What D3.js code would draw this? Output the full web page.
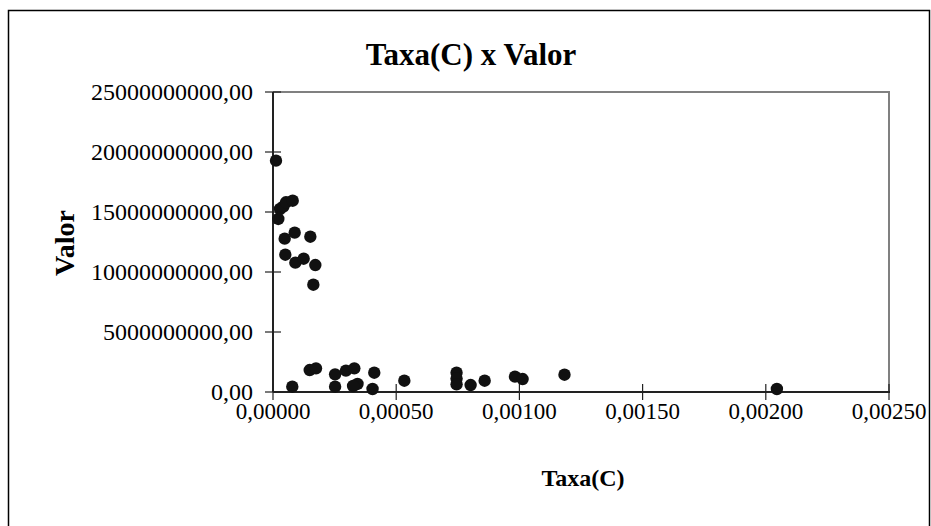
<!DOCTYPE html>
<html>
<head>
<meta charset="utf-8">
<script src="https://cdn.jsdelivr.net/npm/d3@7"></script>
<style>
  html, body { margin: 0; padding: 0; background: #fff; }
  svg { display: block; font-family: "Liberation Serif", "Times New Roman", serif; }
</style>
</head>
<body>
<svg id="chart" width="931" height="526"></svg>
<script>
// Taxa (C) per record
const taxa = [
  0.0000122, 0.0000215, 0.0000284, 0.0000418, 0.0000528, 0.0000800,
  0.0000474, 0.0000880, 0.0001515,
  0.0000500, 0.0000907, 0.0001245, 0.0001718,
  0.0001637,
  0.0000783, 0.0001490, 0.0001745, 0.0002520, 0.0002520, 0.0002960,
  0.0003300, 0.0003430, 0.0003250, 0.0004110, 0.0004040, 0.0005330,
  0.0007450, 0.0007450, 0.0007450, 0.0008020, 0.0008590, 0.0009820,
  0.0010130, 0.0011830, 0.0020450
];
// Valor per record
const valor = [
  19.28e9, 14.42e9, 15.25e9, 15.44e9, 15.81e9, 15.94e9,
  12.78e9, 13.28e9, 12.94e9,
  11.44e9, 10.78e9, 11.11e9, 10.58e9,
  8.94e9,
  0.44e9, 1.83e9, 1.97e9, 1.47e9, 0.44e9, 1.78e9,
  1.97e9, 0.67e9, 0.50e9, 1.61e9, 0.25e9, 0.94e9,
  1.61e9, 1.12e9, 0.64e9, 0.58e9, 0.94e9, 1.28e9,
  1.08e9, 1.44e9, 0.25e9
];
const xTicks = [0, 0.0005, 0.001, 0.0015, 0.002, 0.0025];
const yTicks = [0, 5e9, 10e9, 15e9, 20e9, 25e9];

const chartTitle = "Taxa(C) x Valor";
const xTitle = "Taxa(C)";
const yTitle = "Valor";

const locale = d3.formatLocale({ decimal: ",", thousands: "", grouping: [3], currency: ["", ""] });
const fmtX = locale.format(".5f");
const fmtY = locale.format(".2f");

const svg = d3.select("#chart");
const plot = { left: 273, right: 889, top: 92, bottom: 392 };

const x = d3.scaleLinear().domain([0, 0.0025]).range([plot.left, plot.right]);
const y = d3.scaleLinear().domain([0, 25e9]).range([plot.bottom, plot.top]);

// outer chart frame
svg.append("path")
  .attr("d", `M8.5,530 V10.5 H929.5 V530`)
  .attr("fill", "none").attr("stroke", "#000").attr("stroke-width", 1.5);

// plot area border (top and right)
svg.append("path")
  .attr("d", `M${plot.left},${plot.top} H${plot.right} V${plot.bottom}`)
  .attr("fill", "none").attr("stroke", "#808080").attr("stroke-width", 2);

// axis lines
svg.append("line")
  .attr("x1", plot.left).attr("x2", plot.right + 1)
  .attr("y1", plot.bottom).attr("y2", plot.bottom)
  .attr("stroke", "#222").attr("stroke-width", 2);
svg.append("line")
  .attr("x1", plot.left).attr("x2", plot.left)
  .attr("y1", plot.top).attr("y2", plot.bottom)
  .attr("stroke", "#222").attr("stroke-width", 2);

// cross tick marks
svg.append("g").selectAll("line").data(xTicks).join("line")
  .attr("x1", d => x(d)).attr("x2", d => x(d))
  .attr("y1", plot.bottom - 8).attr("y2", plot.bottom + 8)
  .attr("stroke", "#222").attr("stroke-width", 1.2);
svg.append("g").selectAll("line").data(yTicks).join("line")
  .attr("x1", plot.left - 8).attr("x2", plot.left + 8)
  .attr("y1", d => y(d)).attr("y2", d => y(d))
  .attr("stroke", "#222").attr("stroke-width", 1.2);

// tick labels
svg.append("g").selectAll("text").data(xTicks).join("text")
  .attr("x", d => x(d)).attr("y", 419)
  .attr("text-anchor", "middle")
  .attr("font-size", 23)
  .text(d => fmtX(d));
svg.append("g").selectAll("text").data(yTicks).join("text")
  .attr("x", 253).attr("y", d => y(d) + 8)
  .attr("text-anchor", "end")
  .attr("font-size", 24)
  .text(d => fmtY(d));

// points
svg.append("g").selectAll("circle").data(taxa).join("circle")
  .attr("cx", (d, i) => x(d))
  .attr("cy", (d, i) => y(valor[i]))
  .attr("r", 6.2)
  .attr("fill", "#111");

// titles
svg.append("text")
  .attr("x", 471).attr("y", 65)
  .attr("text-anchor", "middle")
  .attr("font-size", 31).attr("font-weight", "bold")
  .text(chartTitle);
svg.append("text")
  .attr("x", 583).attr("y", 486)
  .attr("text-anchor", "middle")
  .attr("font-size", 24).attr("font-weight", "bold")
  .text(xTitle);
svg.append("text")
  .attr("transform", "translate(74,243) rotate(-90)")
  .attr("text-anchor", "middle")
  .attr("font-size", 28).attr("font-weight", "bold")
  .text(yTitle);
</script>
</body>
</html>
